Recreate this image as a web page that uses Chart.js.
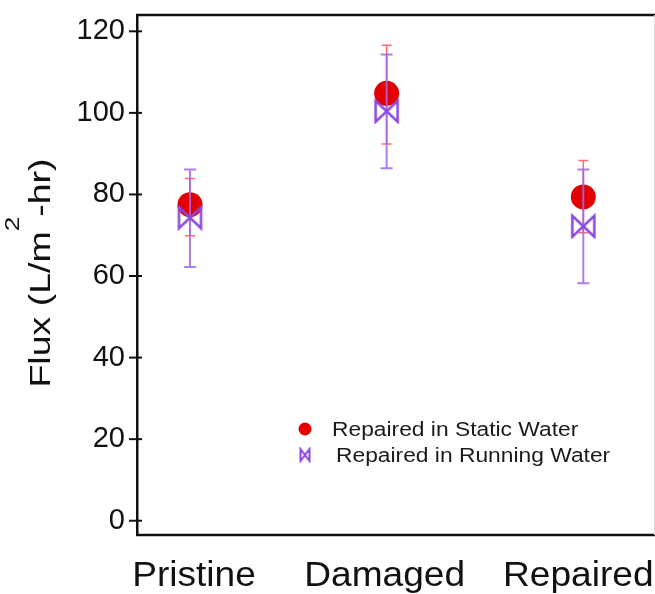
<!DOCTYPE html>
<html>
<head>
<meta charset="utf-8">
<script src="https://cdn.jsdelivr.net/npm/chart.js@4/dist/chart.umd.min.js"></script>
<style>
    body { margin: 0; background: #fff; }
    #box { width: 655px; height: 594px; position: relative; }
</style>
</head>
<body>
<div id="box"><canvas id="fluxChart"></canvas></div>
<script>
// values
const categories = ['Pristine', 'Damaged', 'Repaired'];
const staticFlux = [77.5, 104.8, 79.4];
const staticLow = [69.9, 92.4, 70.6];
const staticHigh = [83.9, 116.6, 88.3];
const runningFlux = [74.3, 100.4, 72.2];
const runningLow = [62.2, 86.4, 58.2];
const runningHigh = [86.1, 114.3, 86.1];
const yTicks = [0, 20, 40, 60, 80, 100, 120];
const seriesNames = ['Repaired in Static Water', 'Repaired in Running Water'];

const FONT = "'Liberation Sans', Arial, Helvetica, sans-serif";
const RED = 'rgb(228, 0, 0)';
const PURPLE = 'rgb(138, 72, 222)';

// bowtie marker drawn on a small canvas, used as pointStyle
function bowtie(w, h, lw) {
    let c = document.createElement('canvas');
    c.width = w + lw * 2;
    c.height = h + lw * 2;
    let g = c.getContext('2d');
    g.strokeStyle = PURPLE;
    g.lineWidth = lw;
    g.lineJoin = 'miter';
    g.beginPath();
    g.moveTo(lw, lw);
    g.lineTo(lw + w, lw + h);
    g.lineTo(lw + w, lw);
    g.lineTo(lw, lw + h);
    g.closePath();
    g.stroke();
    return c;
}
const bigTie = bowtie(22, 21, 2.5);
const smallTie = bowtie(9, 12, 2);

function points(values) {
    return values.map(function(v, i) { return { x: i, y: v }; });
}

const errorBars = {
    id: 'errorBars',
    beforeDatasetDraw(chart, args) {
        let ds = chart.data.datasets[args.index];
        if (!ds.errLow) return;
        let ctx = chart.ctx;
        let xs = chart.scales.x, ys = chart.scales.y;
        ctx.save();
        ctx.strokeStyle = ds.errColor;
        ctx.lineWidth = ds.errWidth;
        ds.errLow.forEach(function(lo, i) {
            let px = xs.getPixelForValue(i);
            let top = ys.getPixelForValue(ds.errHigh[i]);
            let bot = ys.getPixelForValue(lo);
            ctx.beginPath();
            ctx.moveTo(px, top); ctx.lineTo(px, bot);
            ctx.moveTo(px - ds.capHalf, top); ctx.lineTo(px + ds.capHalf, top);
            ctx.moveTo(px - ds.capHalf, bot); ctx.lineTo(px + ds.capHalf, bot);
            ctx.stroke();
        });
        ctx.restore();
    }
};

const frame = {
    id: 'frame',
    afterDraw(chart) {
        let ctx = chart.ctx;
        let a = chart.chartArea;
        let xs = chart.scales.x, ys = chart.scales.y;
        ctx.save();
        // top and bottom frame lines run to the picture edge
        ctx.strokeStyle = '#111';
        ctx.lineWidth = 2.5;
        ctx.beginPath();
        ctx.moveTo(a.left - 1, a.top);
        ctx.lineTo(655, a.top);
        ctx.moveTo(a.left - 1, a.bottom);
        ctx.lineTo(655, a.bottom);
        ctx.stroke();
        ctx.strokeStyle = '#ddd';
        ctx.lineWidth = 1;
        ctx.beginPath();
        ctx.moveTo(654.5, a.top);
        ctx.lineTo(654.5, a.bottom);
        ctx.stroke();
        // y tick marks crossing the axis
        ctx.strokeStyle = '#111';
        ctx.lineWidth = 2;
        yTicks.forEach(function(t) {
            let py = ys.getPixelForValue(t);
            ctx.beginPath();
            ctx.moveTo(a.left - 8, py);
            ctx.lineTo(a.left + 5, py);
            ctx.stroke();
        });

        // category labels under the axis
        ctx.fillStyle = '#111';
        ctx.font = '35px ' + FONT;
        ctx.textAlign = 'center';
        ctx.textBaseline = 'alphabetic';
        categories.forEach(function(c, i) {
            ctx.save();
            ctx.translate(xs.getPixelForValue(i) + (i === 0 ? 4 : i === 2 ? -5 : -2), 586);
            ctx.scale(1.06, 1);
            ctx.fillText(c, 0, 0);
            ctx.restore();
        });
        ctx.textAlign = 'left';

        // y axis title with superscript
        ctx.translate(50, 273);
        ctx.rotate(-Math.PI / 2);
        ctx.scale(1.25, 1);
        let p1 = 'Flux (L/m', sup = '2', p2 = '-hr)';
        ctx.font = '30px ' + FONT;
        let w1 = ctx.measureText(p1).width;
        let w3 = ctx.measureText(p2).width;
        ctx.font = '21px ' + FONT;
        let w2 = ctx.measureText(sup).width;
        let x0 = -(w1 + w2 + w3) / 2;
        ctx.font = '30px ' + FONT;
        ctx.fillText(p1, x0, 0);
        ctx.fillText(p2, x0 + w1 + w2, 0);
        ctx.font = '21px ' + FONT;
        ctx.fillText(sup, x0 + w1, -31);
        ctx.restore();

        // legend inside the plot
        ctx.save();
        let rows = [429, 455];
        chart.data.datasets.forEach(function(ds, i) {
            let cy = rows[i];
            if (ds.pointStyle === 'circle') {
                ctx.fillStyle = RED;
                ctx.beginPath();
                ctx.arc(305, cy, 6.5, 0, Math.PI * 2);
                ctx.fill();
            } else {
                ctx.drawImage(smallTie, 305 - smallTie.width / 2, cy - smallTie.height / 2);
            }
            ctx.save();
            ctx.translate(i === 0 ? 332 : 336, cy);
            ctx.scale(1.14, 1);
            ctx.font = '20px ' + FONT;
            ctx.fillStyle = '#1a1a1a';
            ctx.textBaseline = 'middle';
            ctx.fillText(ds.label, 0, 1);
            ctx.restore();
        });
        ctx.restore();
    }
};

new Chart(document.getElementById('fluxChart'), {
    type: 'scatter',
    data: {
        datasets: [{
            label: seriesNames[0],
            data: points(staticFlux),
            pointStyle: 'circle',
            pointRadius: 12.5,
            backgroundColor: RED,
            borderColor: RED,
            borderWidth: 0,
            errLow: staticLow,
            errHigh: staticHigh,
            errColor: 'rgba(255, 70, 70, 0.8)',
            errWidth: 1.5,
            capHalf: 5,
            order: 2
        }, {
            label: seriesNames[1],
            data: points(runningFlux),
            pointStyle: bigTie,
            pointRadius: 12,
            backgroundColor: PURPLE,
            borderColor: PURPLE,
            errLow: runningLow,
            errHigh: runningHigh,
            errColor: 'rgba(160, 105, 232, 0.85)',
            errWidth: 2,
            capHalf: 6,
            order: 1
        }]
    },
    options: {
        responsive: true,
        maintainAspectRatio: false,
        animation: false,
        layout: { autoPadding: false, padding: { top: 15, right: 1, left: 0, bottom: 0 } },
        plugins: {
            legend: { display: false },
            tooltip: { enabled: false }
        },
        scales: {
            x: {
                type: 'linear',
                min: -0.2695,
                max: 2.3595,
                afterBuildTicks: function(scale) {
                    scale.ticks = categories.map(function(c, i) { return { value: i }; });
                },
                afterFit: function(scale) {
                    scale.height = 59;
                    scale.paddingLeft = 0;
                    scale.paddingRight = 0;
                },
                grid: { display: false, drawTicks: false },
                border: { display: false },
                ticks: { display: false }
            },
            y: {
                min: -3.5,
                max: 124,
                afterBuildTicks: function(scale) {
                    scale.ticks = yTicks.map(function(v) { return { value: v }; });
                },
                afterFit: function(scale) {
                    scale.width = 137;
                    scale.paddingTop = 0;
                    scale.paddingBottom = 0;
                },
                grid: { display: false, drawTicks: false },
                border: { display: true, color: '#111', width: 2.5 },
                ticks: {
                    color: '#111',
                    font: { family: FONT, size: 29 },
                    padding: 12
                }
            }
        }
    },
    plugins: [errorBars, frame]
});
</script>
</body>
</html>
